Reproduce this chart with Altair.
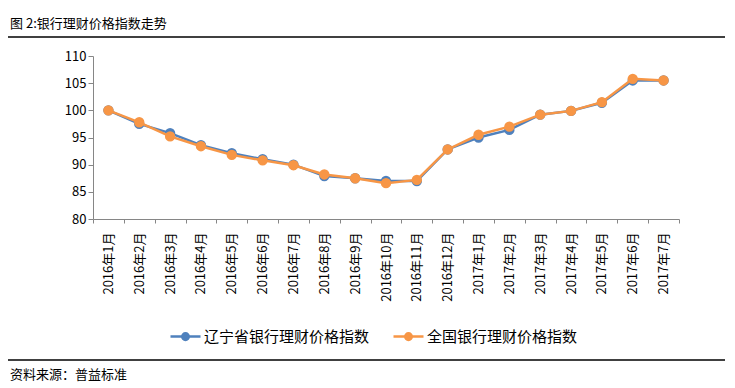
import altair as alt
import pandas as pd

months = ["2016年1月", "2016年2月", "2016年3月", "2016年4月", "2016年5月", "2016年6月",
          "2016年7月", "2016年8月", "2016年9月", "2016年10月", "2016年11月", "2016年12月",
          "2017年1月", "2017年2月", "2017年3月", "2017年4月", "2017年5月", "2017年6月", "2017年7月"]
liaoning = [100.0, 97.5, 95.8, 93.6, 92.1, 91.0, 90.0, 87.9, 87.5, 87.0, 87.0, 92.8,
            95.0, 96.4, 99.2, 99.9, 101.4, 105.5, 105.5]
national = [100.0, 97.8, 95.2, 93.4, 91.8, 90.8, 89.9, 88.2, 87.5, 86.6, 87.2, 92.8,
            95.5, 97.0, 99.2, 99.9, 101.5, 105.8, 105.5]
series_names = ["辽宁省银行理财价格指数", "全国银行理财价格指数"]
colors = ["#4F81BD", "#F79646"]
y_ticks = [80, 85, 90, 95, 100, 105, 110]

rows = []
for name, vals in zip(series_names, [liaoning, national]):
    for m, v in zip(months, vals):
        rows.append({"month": m, "value": v, "series": name})
df = pd.DataFrame(rows)

FONT = "Noto Sans CJK SC"

x_enc = alt.X("month:N", sort=months, bandPosition=0.5,
              scale=alt.Scale(type="band", paddingInner=0, paddingOuter=0),
              axis=alt.Axis(title=None, labelAngle=-90, labelPadding=9, tickSize=4,
                            tickBand="extent", domainColor="#868686", tickColor="#868686",
                            labelFontSize=13, labelColor="#000000", labelFont=FONT,
                            grid=False))
y_enc = alt.Y("value:Q", scale=alt.Scale(domain=[80, 110], nice=False, zero=False),
              axis=alt.Axis(title=None, values=y_ticks, tickSize=5, labelPadding=2,
                            domainColor="#868686", tickColor="#868686", grid=False,
                            labelFontSize=13, labelColor="#000000", labelFont=FONT))

leg = alt.Legend(title=None, orient="none", legendX=76, legendY=264, direction="horizontal")
sc = alt.Scale(domain=series_names, range=colors)

base = alt.Chart(df)
layers = []
for name in series_names:
    f = base.transform_filter(alt.datum.series == name)
    layers.append(f.mark_line(strokeWidth=2.5).encode(
        x=x_enc, y=y_enc, stroke=alt.Stroke("series:N", scale=sc, legend=leg)))
    layers.append(f.mark_point(filled=True, size=70, opacity=1).encode(
        x=x_enc, y=y_enc,
        fill=alt.Fill("series:N", scale=sc, legend=leg),
        stroke=alt.Stroke("series:N", scale=sc, legend=leg)))

deco = alt.Chart(pd.DataFrame({"a": [0]}))
title_rule = deco.mark_rule(color="#000000", strokeWidth=1.5).encode(
    x=alt.value(-85), x2=alt.value(632), y=alt.value(-19))
foot_rule = deco.mark_rule(color="#000000", strokeWidth=1.5).encode(
    x=alt.value(-85), x2=alt.value(632), y=alt.value(304))
title_text = deco.mark_text(align="left", baseline="middle", fontSize=13, font=FONT,
                            color="#000000").encode(
    x=alt.value(-83), y=alt.value(-32), text=alt.value("图 2:银行理财价格指数走势"))
foot_text = deco.mark_text(align="left", baseline="middle", fontSize=13, font=FONT,
                           color="#000000").encode(
    x=alt.value(-83), y=alt.value(319), text=alt.value("资料来源：普益标准"))

legend_path = "M-1,0H1M-0.22,0A0.22,0.22,0,1,0,0.22,0A0.22,0.22,0,1,0,-0.22,0Z"

chart = alt.layer(*layers, title_rule, foot_rule, title_text, foot_text).properties(
    width=586, height=163,
    background="#ffffff",
    autosize=alt.AutoSizeParams(type="none"),
    padding={"left": 85, "top": 48, "right": 48, "bottom": 167},
).configure_view(strokeWidth=0).configure_legend(
    symbolType=legend_path, symbolSize=900, symbolStrokeWidth=2.5, symbolOpacity=1,
    labelFontSize=15, labelFont=FONT, labelColor="#000000", labelLimit=400,
    labelOffset=2, columnPadding=18, padding=0,
)

chart.save("out.html", embed_options={"renderer": "svg", "actions": False})
